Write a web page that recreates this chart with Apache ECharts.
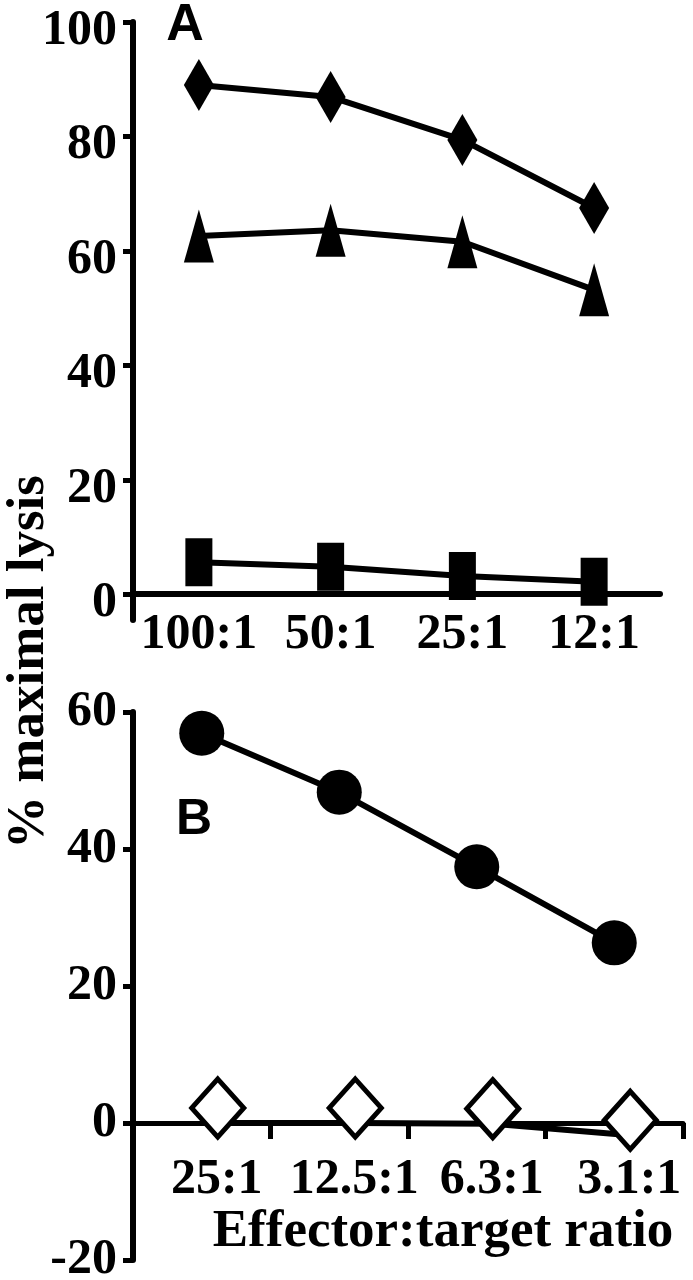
<!DOCTYPE html>
<html>
<head>
<meta charset="utf-8">
<script src="https://cdn.jsdelivr.net/npm/echarts@6/dist/echarts.min.js"></script>
<style>
html,body{margin:0;padding:0;background:#fff;}
#chart{width:693px;height:1280px;}
</style>
</head>
<body>
<div id="chart"></div>
<script>
// ---- Data ----
var categoriesA = ['100:1', '50:1', '25:1', '12:1'];
var diamondA = [89.0, 86.9, 79.4, 67.5];
var triangleA = [62.6, 63.6, 61.6, 53.2];
var squareA = [5.6, 4.8, 3.2, 2.2];
var yTicksA = [0, 20, 40, 60, 80, 100];

var categoriesB = ['25:1', '12.5:1', '6.3:1', '3.1:1'];
var circleB = [56.9, 48.3, 37.4, 26.3];
var openDiamondB = [0, 0, -0.1, -1.8];

var yTitle = '% maximal lysis';
var xTitleB = 'Effector:target ratio';

// ---- Styles ----
var SERIF = '"Liberation Serif", "Times New Roman", serif';
var SANS = '"Liberation Sans", Arial, sans-serif';
var BLACK = '#000';
var labelFont = {fontFamily: SERIF, fontWeight: 'bold', fontSize: 50, color: BLACK};

var chart = echarts.init(document.getElementById('chart'), null, {renderer: 'canvas'});

function lineSeries(name, data, xi, yi, symbol, size, extra) {
  var s = {
    name: name, type: 'line', xAxisIndex: xi, yAxisIndex: yi, data: data,
    symbol: symbol, symbolSize: size, showSymbol: true,
    lineStyle: {color: BLACK, width: 6},
    itemStyle: {color: BLACK},
    animation: false, z: 5
  };
  if (extra) for (var k in extra) s[k] = extra[k];
  return s;
}

var option = {
  backgroundColor: '#fff',
  animation: false,
  grid: [
    {left: 133, top: 22, right: 33, bottom: 660, outerBoundsMode: 'none', containLabel: false},
    {left: 133, top: 712, width: 550, bottom: 20, outerBoundsMode: 'none', containLabel: false},
    {left: 149, top: 712, width: 550, bottom: 20, outerBoundsMode: 'none', containLabel: false}
  ],
  xAxis: [
    {
      gridIndex: 0, type: 'category', data: categoriesA, boundaryGap: true,
      axisLine: {show: true, onZero: true, lineStyle: {color: BLACK, width: 6}},
      axisTick: {show: false},
      axisLabel: Object.assign({margin: -10, interval: 0}, labelFont),
      splitLine: {show: false}
    },
    {
      gridIndex: 1, type: 'category', data: categoriesB, boundaryGap: true,
      axisLine: {show: true, onZero: true, lineStyle: {color: BLACK, width: 5}},
      axisTick: {show: true, length: 16, interval: 0, lineStyle: {color: BLACK, width: 5}},
      axisLabel: {
        margin: -105, interval: 0,
        formatter: '{v|{value}}',
        rich: {v: {fontFamily: SERIF, fontWeight: 'bold', fontSize: 50, color: BLACK, padding: [0, 0, 0, 30]}}
      },
      splitLine: {show: false}
    },
    {
      gridIndex: 2, type: 'category', data: categoriesB, boundaryGap: true,
      show: false
    }
  ],
  yAxis: [
    {
      gridIndex: 0, type: 'value', min: -4.5, max: 100,
      axisLine: {show: true, lineStyle: {color: BLACK, width: 6}},
      axisTick: {show: true, length: 10, lineStyle: {color: BLACK, width: 5}, customValues: yTicksA},
      axisLabel: {
        margin: 16, customValues: yTicksA,
        formatter: '{v|{value}}',
        rich: {v: {fontFamily: SERIF, fontWeight: 'bold', fontSize: 50, color: BLACK, padding: [18, 0, 0, 0]}}
      },
      splitLine: {show: false}
    },
    {
      gridIndex: 1, type: 'value', min: -20, max: 60, interval: 20,
      axisLine: {show: true, lineStyle: {color: BLACK, width: 6}},
      axisTick: {show: true, length: 10, lineStyle: {color: BLACK, width: 5}},
      axisLabel: Object.assign({margin: 16}, labelFont),
      splitLine: {show: false}
    },
    {
      gridIndex: 2, type: 'value', min: -20, max: 60, interval: 20,
      show: false
    }
  ],
  series: [
    lineSeries('diamond', diamondA, 0, 0, 'diamond', [30, 52]),
    lineSeries('triangle', triangleA, 0, 0, 'triangle', [30, 53]),
    lineSeries('square', squareA, 0, 0, 'rect', [27, 48]),
    lineSeries('circle', circleB, 1, 1, 'circle', 45),
    lineSeries('open diamond', openDiamondB, 2, 2, 'diamond', [52, 58], {
      symbolOffset: [0, -15],
      itemStyle: {color: '#fff', borderColor: BLACK, borderWidth: 5}
    })
  ],
  graphic: [
    {
      type: 'text', x: 29, y: 662, rotation: Math.PI / 2,
      style: {text: yTitle, font: 'bold 53px ' + SERIF, fill: BLACK, align: 'center', verticalAlign: 'middle'}
    },
    {
      type: 'text', x: 185, y: 26,
      style: {text: 'A', font: 'bold 52px ' + SANS, fill: BLACK, align: 'center', verticalAlign: 'middle'}
    },
    {
      type: 'text', x: 194, y: 820,
      style: {text: 'B', font: 'bold 50px ' + SANS, fill: BLACK, align: 'center', verticalAlign: 'middle'}
    },
    {
      type: 'text', x: 443, y: 1232,
      style: {text: xTitleB, font: 'bold 53px ' + SERIF, fill: BLACK, align: 'center', verticalAlign: 'middle'}
    }
  ]
};
chart.setOption(option);
</script>
</body>
</html>
